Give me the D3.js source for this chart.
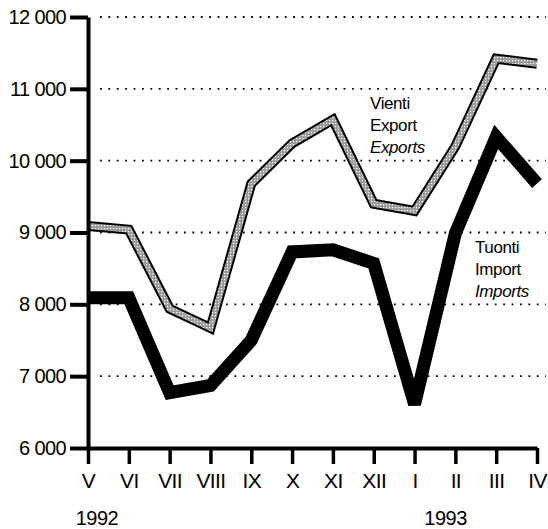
<!DOCTYPE html>
<html>
<head>
<meta charset="utf-8">
<script src="https://cdn.jsdelivr.net/npm/d3@7"></script>
<style>
  body { margin: 0; background: #fff; }
  text { font-family: "Liberation Sans", Arial, sans-serif; fill: #000; }
</style>
</head>
<body>
<div id="graph"></div>
<script>
// data
const months = ["V", "VI", "VII", "VIII", "IX", "X", "XI", "XII", "I", "II", "III", "IV"]
const exportValues = [9090, 9040, 7940, 7670, 9680, 10240, 10570, 9400, 9300, 10200, 11420, 11350]
const importValues = [8090, 8090, 6770, 6870, 7500, 8730, 8760, 8570, 6610, 8990, 10330, 9680]
const yTicks = [6000, 7000, 8000, 9000, 10000, 11000, 12000]
const gridTicks = [7000, 8000, 9000, 10000, 11000, 12000]
const years = ["1992", "1993"]
const yearMonths = ["V", "I"]
const exportLabel = ["Vienti", "Export", "Exports"]
const importLabel = ["Tuonti", "Import", "Imports"]

function drawChart() {
    let dimensions = {
        width: 548,
        height: 529,
        margin: {
            top: 17,
            right: 11,
            bottom: 81,
            left: 88,
        },
    }
    dimensions.boundedWidth = dimensions.width
        - dimensions.margin.left
        - dimensions.margin.right
    dimensions.boundedHeight = dimensions.height
        - dimensions.margin.top
        - dimensions.margin.bottom

    const wrapper = d3.select("#graph")
        .append("svg")
        .attr("width", dimensions.width)
        .attr("height", dimensions.height)

    // dotted texture for the export line
    const pattern = wrapper.append("defs")
        .append("pattern")
        .attr("id", "dots")
        .attr("patternUnits", "userSpaceOnUse")
        .attr("width", 3)
        .attr("height", 3)
    pattern.append("rect").attr("width", 3).attr("height", 3).attr("fill", "#9a9a9a")
    pattern.append("rect").attr("x", 1).attr("y", 1).attr("width", 1.2).attr("height", 1.2).attr("fill", "#fff")

    const bounds = wrapper.append("g")
        .attr("transform", `translate(${dimensions.margin.left},${dimensions.margin.top})`)

    // scales
    const xScale = d3.scalePoint()
        .domain(months)
        .range([0, dimensions.boundedWidth])
    const yScale = d3.scaleLinear()
        .domain([6000, 12000])
        .range([dimensions.boundedHeight, 0])

    // dotted grid
    bounds.append("g")
        .selectAll("line")
        .data(gridTicks)
        .join("line")
        .attr("x1", 12)
        .attr("x2", dimensions.boundedWidth + 9)
        .attr("y1", d => yScale(d))
        .attr("y2", d => yScale(d))
        .attr("stroke", "#000")
        .attr("stroke-width", 1.8)
        .attr("stroke-dasharray", "1.8 6.6")

    const lineGenerator = d3.line()
        .x((d, i) => xScale(months[i]))
        .y(d => yScale(d))

    // exports: outlined, textured
    bounds.append("path")
        .attr("d", lineGenerator(exportValues))
        .attr("fill", "none")
        .attr("stroke", "#000")
        .attr("stroke-width", 10)
        .attr("stroke-linejoin", "miter")
        .attr("stroke-miterlimit", 2.5)
    bounds.append("path")
        .attr("d", lineGenerator(exportValues))
        .attr("fill", "none")
        .attr("stroke", "url(#dots)")
        .attr("stroke-width", 6)
        .attr("stroke-linejoin", "miter")
        .attr("stroke-miterlimit", 2.5)

    // imports: thick black
    bounds.append("path")
        .attr("d", lineGenerator(importValues))
        .attr("fill", "none")
        .attr("stroke", "#000")
        .attr("stroke-width", 13)
        .attr("stroke-linejoin", "miter")
        .attr("stroke-miterlimit", 2.2)

    // axes
    const spaceFormat = d3.formatLocale({
        decimal: ",", thousands: " ", grouping: [3], currency: ["", ""]
    }).format(",")

    const yAxis = bounds.append("g")
        .call(d3.axisLeft(yScale)
            .tickValues(yTicks)
            .tickFormat(spaceFormat)
            .tickSize(18)
            .tickSizeOuter(0)
            .tickPadding(4))
    yAxis.select(".domain").attr("stroke-width", 4)
    yAxis.selectAll(".tick line").attr("stroke-width", 4)
    yAxis.selectAll(".tick text")
        .attr("font-size", 20)
        .attr("font-family", "Liberation Sans, Arial, sans-serif")
        .attr("letter-spacing", -0.6)

    const xAxis = bounds.append("g")
        .attr("transform", `translate(0,${dimensions.boundedHeight})`)
        .call(d3.axisBottom(xScale)
            .tickSize(16)
            .tickSizeOuter(0)
            .tickPadding(9))
    xAxis.select(".domain").attr("stroke-width", 4)
    xAxis.selectAll(".tick line").attr("stroke-width", 3.5)
    xAxis.selectAll(".tick text")
        .attr("font-size", 21)
        .attr("font-family", "Liberation Sans, Arial, sans-serif")
        .attr("letter-spacing", -0.6)

    // years under the month labels
    const yearOffsets = [9, 31]
    bounds.selectAll(".year")
        .data(years)
        .join("text")
        .attr("class", "year")
        .attr("x", (d, i) => xScale(yearMonths[i]) + yearOffsets[i])
        .attr("y", dimensions.boundedHeight + 77)
        .attr("text-anchor", "middle")
        .attr("font-size", 20)
        .attr("letter-spacing", -0.5)
        .text(d => d)

    // series labels
    const drawLabel = (lines, x, y) => {
        bounds.append("g")
            .selectAll("text")
            .data(lines)
            .join("text")
            .attr("x", x)
            .attr("y", (d, i) => y + i * 22)
            .attr("font-size", 17)
            .attr("letter-spacing", -0.4)
            .attr("font-style", (d, i) => i === 2 ? "italic" : "normal")
            .text(d => d)
    }
    drawLabel(exportLabel, 370 - dimensions.margin.left, 109 - dimensions.margin.top)
    drawLabel(importLabel, 475 - dimensions.margin.left, 253 - dimensions.margin.top)
}

drawChart()
</script>
</body>
</html>
